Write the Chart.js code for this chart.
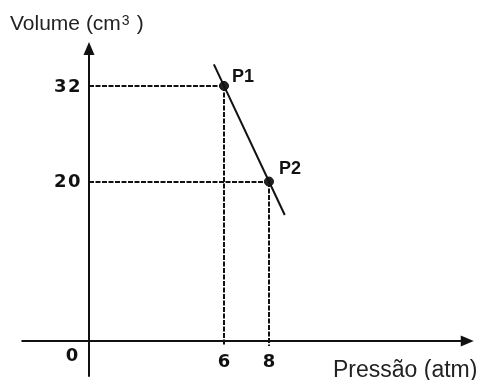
<!DOCTYPE html>
<html>
<head>
<meta charset="utf-8">
<script src="https://cdn.jsdelivr.net/npm/chart.js@4.4.1/dist/chart.umd.min.js"></script>
<style>
  html, body { margin: 0; padding: 0; background: #fff; }
  #wrap { width: 480px; height: 380px; position: relative; }
</style>
</head>
<body>
<div id="wrap"><canvas id="grafico"></canvas></div>
<script>
// pontos do gráfico
const nomes = ['P1', 'P2'];
const pressao = [6, 8];
const volume = [32, 20];

// reta que passa por P1 e P2 (extremos desenhados)
const retaPressao = [5.55, 8.7];
const retaVolume = [34.7, 15.8];

// marcas dos eixos
const ticksX = [6, 8];
const ticksY = [20, 32];

const COR = '#111';

const eixosPlugin = {
    id: 'eixos',
    beforeDatasetsDraw(chart) {
        const ctx = chart.ctx;
        const sx = chart.scales.x;
        const sy = chart.scales.y;
        const x0 = Math.round(sx.getPixelForValue(0));
        const y0 = Math.round(sy.getPixelForValue(0));

        ctx.save();

        // linhas tracejadas de P1 e P2 até os eixos
        ctx.strokeStyle = COR;
        ctx.lineWidth = 2;
        ctx.setLineDash([5, 1.5]);
        pressao.forEach(function (p, i) {
            const px = Math.round(sx.getPixelForValue(p));
            const py = Math.round(sy.getPixelForValue(volume[i]));
            ctx.beginPath();
            ctx.moveTo(x0, py);
            ctx.lineTo(px, py);
            ctx.moveTo(px, py);
            ctx.lineTo(px, y0 + 5);
            ctx.stroke();
        });
        ctx.setLineDash([]);

        // eixos
        ctx.lineWidth = 2;
        ctx.beginPath();
        ctx.moveTo(sx.getPixelForValue(-3), y0);
        ctx.lineTo(sx.getPixelForValue(17.1) - 8, y0);
        ctx.moveTo(x0, sy.getPixelForValue(-4.5));
        ctx.lineTo(x0, sy.getPixelForValue(37.5) + 8);
        ctx.stroke();

        // setas
        ctx.fillStyle = COR;
        const xt = sx.getPixelForValue(17.1);
        ctx.beginPath();
        ctx.moveTo(xt, y0);
        ctx.lineTo(xt - 13, y0 - 5.5);
        ctx.lineTo(xt - 13, y0 + 5.5);
        ctx.closePath();
        ctx.fill();
        const yt = sy.getPixelForValue(37.5);
        ctx.beginPath();
        ctx.moveTo(x0, yt);
        ctx.lineTo(x0 - 5.5, yt + 13);
        ctx.lineTo(x0 + 5.5, yt + 13);
        ctx.closePath();
        ctx.fill();

        ctx.restore();
    },
    afterDatasetsDraw(chart) {
        const ctx = chart.ctx;
        const sx = chart.scales.x;
        const sy = chart.scales.y;
        const x0 = sx.getPixelForValue(0);
        const y0 = sy.getPixelForValue(0);

        ctx.save();
        ctx.fillStyle = '#111';

        // valores dos eixos
        ctx.font = 'bold 18px "DejaVu Sans"';
        ctx.letterSpacing = '1.5px';
        ctx.textBaseline = 'middle';
        ctx.textAlign = 'right';
        ticksY.forEach(function (v) {
            ctx.fillText(String(v), x0 - 7, sy.getPixelForValue(v) + 1);
        });
        ctx.letterSpacing = '0px';
        ctx.textAlign = 'center';
        ticksX.forEach(function (v) {
            ctx.fillText(String(v), sx.getPixelForValue(v), y0 + 21);
        });
        ctx.fillText('0', x0 - 17, y0 + 15);

        // nomes dos pontos
        ctx.font = 'bold 18px "Liberation Sans"';
        ctx.textAlign = 'left';
        ctx.textBaseline = 'alphabetic';
        ctx.fillText(nomes[0], sx.getPixelForValue(pressao[0]) + 8, sy.getPixelForValue(volume[0]) - 4);
        ctx.fillText(nomes[1], sx.getPixelForValue(pressao[1]) + 10, sy.getPixelForValue(volume[1]) - 8);

        // títulos dos eixos
        ctx.fillStyle = '#222';
        ctx.font = '21px "Liberation Sans"';
        ctx.fillText('Volume (cm', 10, 30);
        const w = ctx.measureText('Volume (cm').width;
        ctx.font = '14px "Liberation Sans"';
        ctx.fillText('3', 10 + w + 1, 25);
        ctx.font = '21px "Liberation Sans"';
        ctx.fillText(')', 10 + w + 16, 30);

        ctx.font = '23px "Liberation Sans"';
        ctx.fillText('Pressão (atm)', 333, 377);

        ctx.restore();
    }
};

new Chart(document.getElementById('grafico'), {
    type: 'scatter',
    data: {
        datasets: [
            {
                data: retaPressao.map(function (p, i) { return { x: p, y: retaVolume[i] }; }),
                showLine: true,
                borderColor: COR,
                borderWidth: 2,
                pointRadius: 0
            },
            {
                data: pressao.map(function (p, i) { return { x: p, y: volume[i] }; }),
                pointRadius: 4.5,
                pointBackgroundColor: '#222',
                pointBorderColor: '#111',
                pointBorderWidth: 1
            }
        ]
    },
    options: {
        responsive: true,
        maintainAspectRatio: false,
        animation: false,
        layout: {
            padding: { left: 21.5, right: 8.5, top: 38.1, bottom: 23.1 }
        },
        scales: {
            x: { type: 'linear', min: -3, max: 17, display: false },
            y: { type: 'linear', min: -2, max: 38, display: false }
        },
        plugins: {
            legend: { display: false },
            tooltip: { enabled: false }
        }
    },
    plugins: [eixosPlugin]
});
</script>
</body>
</html>
